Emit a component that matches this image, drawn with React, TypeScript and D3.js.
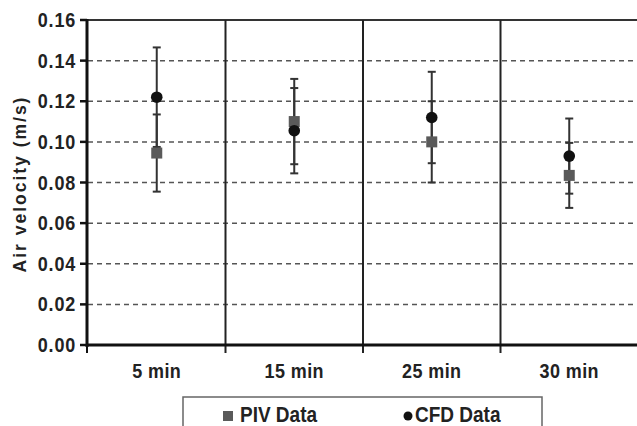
import React from "react";
import * as d3 from "d3";

const categories = ["5 min", "15 min", "25 min", "30 min"];
const pivValues = [0.0945, 0.11, 0.1, 0.0835];
const pivErrors = [0.019, 0.021, 0.02, 0.016];
const cfdValues = [0.122, 0.1055, 0.112, 0.093];
const cfdErrors = [0.0245, 0.021, 0.0225, 0.0185];
const yTicks = [0, 0.02, 0.04, 0.06, 0.08, 0.1, 0.12, 0.14, 0.16];
const yLabel = "Air velocity (m/s)";
const legendLabels = ["PIV Data", "CFD Data"];

const W = 637;
const H = 426;
const FONT = "'Liberation Sans', Arial, sans-serif";

// vertically stretched text, like the reference
function TallText(props: { x: number; y: number; anchor: string; size: number; ls?: number; children: React.ReactNode }) {
  const { x, y, anchor, size, ls, children } = props;
  return (
    <text
      transform={`translate(${x},${y}) scale(1,1.12)`}
      textAnchor={anchor}
      fontFamily={FONT}
      fontWeight="bold"
      fontSize={size}
      fill="#222"
      letterSpacing={ls ?? 0}
    >
      {children}
    </text>
  );
}

export default function App() {
  const x = d3.scaleBand<string>().domain(categories).range([88, 638]).padding(0);
  const y = d3.scaleLinear().domain([0, 0.16]).range([345, 20]);
  const cx = (c: string) => (x(c) as number) + x.bandwidth() / 2;
  const capW = 4;

  return (
    <svg width={W} height={H} style={{ position: "absolute", left: 0, top: 0, background: "#fff" }}>
      {yTicks.filter((t) => t > 0 && t < 0.16).map((t) => (
        <line key={"g" + t} x1={88} x2={W} y1={y(t)} y2={y(t)} stroke="#555" strokeWidth={1.5} strokeDasharray="5,4" />
      ))}
      <line x1={86} x2={W} y1={y(0.16)} y2={y(0.16)} stroke="#333" strokeWidth={2} />
      {categories.slice(1).map((c) => (
        <line key={"v" + c} x1={x(c) as number} x2={x(c) as number} y1={y(0.16)} y2={353} stroke="#222" strokeWidth={2} />
      ))}
      <line x1={87} x2={87} y1={y(0.16) - 1} y2={y(0) + 2} stroke="#111" strokeWidth={3} />
      {yTicks.map((t) => (
        <g key={"t" + t}>
          <line x1={80} x2={87} y1={y(t)} y2={y(t)} stroke="#111" strokeWidth={2.5} />
          <TallText x={76} y={y(t) + 7} anchor="end" size={18} ls={0.8}>
            {d3.format(".2f")(t)}
          </TallText>
        </g>
      ))}
      <line x1={86} x2={W} y1={y(0)} y2={y(0)} stroke="#111" strokeWidth={3} />
      <line x1={87} x2={87} y1={y(0)} y2={353} stroke="#111" strokeWidth={2} />
      {categories.map((c) => (
        <TallText key={"x" + c} x={cx(c)} y={378} anchor="middle" size={18} ls={0.4}>
          {c}
        </TallText>
      ))}
      <text
        transform={`translate(26,184) rotate(-90) scale(1,1.1)`}
        textAnchor="middle"
        fontFamily={FONT}
        fontWeight="bold"
        fontSize={17.5}
        fill="#222"
        letterSpacing={2}
      >
        {yLabel}
      </text>
      {categories.map((c, i) => {
        const xc = cx(c);
        return (
          <g key={"e" + c} stroke="#333" strokeWidth={2}>
            <line x1={xc} x2={xc} y1={y(pivValues[i] + pivErrors[i])} y2={y(pivValues[i] - pivErrors[i])} />
            <line x1={xc - capW} x2={xc + capW} y1={y(pivValues[i] + pivErrors[i])} y2={y(pivValues[i] + pivErrors[i])} />
            <line x1={xc - capW} x2={xc + capW} y1={y(pivValues[i] - pivErrors[i])} y2={y(pivValues[i] - pivErrors[i])} />
            <line x1={xc} x2={xc} y1={y(cfdValues[i] + cfdErrors[i])} y2={y(cfdValues[i] - cfdErrors[i])} />
            <line x1={xc - capW} x2={xc + capW} y1={y(cfdValues[i] + cfdErrors[i])} y2={y(cfdValues[i] + cfdErrors[i])} />
            <line x1={xc - capW} x2={xc + capW} y1={y(cfdValues[i] - cfdErrors[i])} y2={y(cfdValues[i] - cfdErrors[i])} />
          </g>
        );
      })}
      {categories.map((c, i) => (
        <rect key={"s" + c} x={cx(c) - 5.5} y={y(pivValues[i]) - 5.5} width={11} height={11} fill="#5a5a5a" />
      ))}
      {categories.map((c, i) => (
        <circle key={"c" + c} cx={cx(c)} cy={y(cfdValues[i])} r={5.8} fill="#111" />
      ))}
      <rect x={183} y={397} width={359} height={40} fill="#fff" stroke="#666" strokeWidth={1.5} />
      <rect x={223} y={411} width={10} height={10} fill="#5a5a5a" />
      <TallText x={240} y={422} anchor="start" size={19}>
        {legendLabels[0]}
      </TallText>
      <circle cx={408} cy={416} r={4.5} fill="#111" />
      <TallText x={415} y={422} anchor="start" size={19}>
        {legendLabels[1]}
      </TallText>
    </svg>
  );
}
